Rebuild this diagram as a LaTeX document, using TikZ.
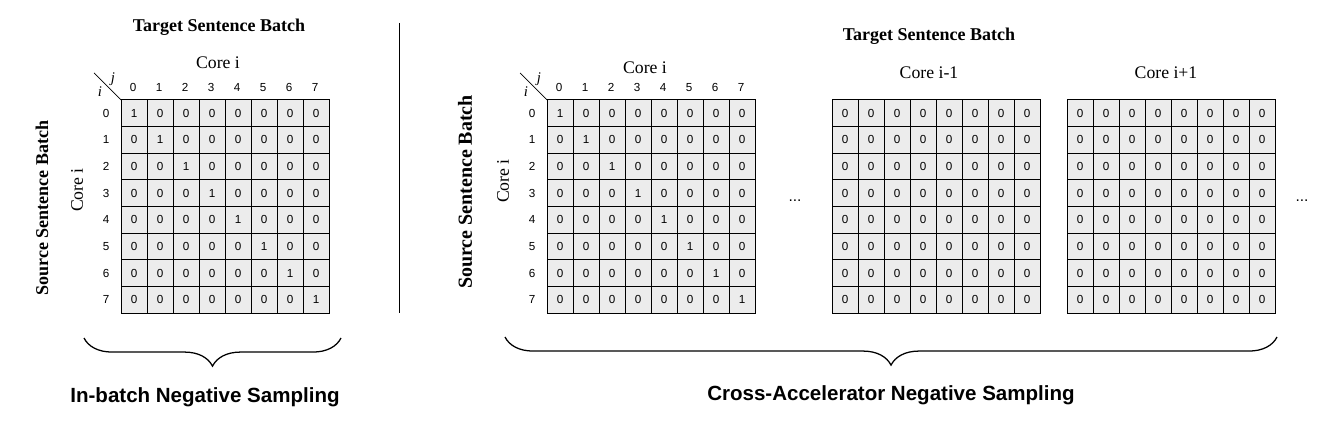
\documentclass[tikz,border=0pt]{standalone}
\usepackage{fontspec}
\setmainfont{Liberation Serif}
\setsansfont{Liberation Sans}
\usetikzlibrary{decorations.pathreplacing}

\begin{document}
\begin{tikzpicture}[x=0.025cm,y=-0.025cm,
    cell/.style={draw,line width=0.7pt,fill=gray!15,minimum width=0.65cm,minimum height=0.666cm,inner sep=0pt,outer sep=0pt,font=\sffamily\fontsize{8.3}{9}\selectfont},
    idx/.style={inner sep=0pt,font=\sffamily\fontsize{8.3}{9}\selectfont},
    ttl/.style={font=\bfseries\fontsize{12.8}{15}\selectfont},
    core/.style={font=\fontsize{12.6}{15}\selectfont},
    ij/.style={inner sep=0pt,font=\itshape\fontsize{10.5}{12}\selectfont},
    sampcap/.style={font=\sffamily\bfseries\fontsize{14.6}{17}\selectfont},
    brc/.style={decorate,decoration={brace,amplitude=20pt,mirror},line width=0.9pt}]
\useasboundingbox (0,0) rectangle (1339,425);
% the four 8x8 blocks (A: in-batch, B: core i, C: core i-1, D: core i+1)
\foreach \m/\x/\d in {A/121/1,B/547/1,C/832/0,D/1067/0} {
  \foreach \r in {0,...,7} {
    \foreach \c in {0,...,7} {
      \pgfmathtruncatemacro{\v}{(\r==\c)*\d}
      \node[cell] (\m\r\c) at (\x+13+26*\c, 100+13.3+26.65*\r) {\v};
    }
  }
}
% row / column indices and the i\j corner
\foreach \m/\x in {A/121,B/547} {
  \foreach \k in {0,...,7} {
    \node[idx] (\m-c\k) at (\x+12+26*\k, 87.5) {\k};
    \node[idx] (\m-r\k) at (\x-15, 100+13.3+26.65*\k) {\k};
  }
  \coordinate (\m-dg) at (\x-27,73);
  \draw[line width=0.5pt] (\m-dg) -- (\m00.north west);
  \node[ij] (\m-j) at (\x-8,79) {j};
  \node[ij] (\m-i) at (\x-21,92) {i};
}
% axis titles
\node[ttl] (tgtA) at (219,27) {Target Sentence Batch};
\node[ttl] (tgtB) at (929,36) {Target Sentence Batch};
\node[ttl,rotate=90] (srcA) at (42,208) {Source Sentence Batch};
\node[ttl,rotate=90,font=\bfseries\fontsize{14.2}{16}\selectfont] (srcB) at (465,192) {Source Sentence Batch};
\node[core] (coreA) at (218,63) {Core i};
\node[core] (coreB) at (645,68) {Core i};
\node[core] (coreC) at (929,73) {Core i-1};
\node[core] (coreD) at (1166,73) {Core i+1};
\node[core,rotate=90] (coreAv) at (77,190) {Core i};
\node[core,rotate=90] (coreBv) at (503,181) {Core i};
\node[idx,font=\sffamily\fontsize{11}{12}\selectfont] (dots1) at (795,201) {...};
\node[idx,font=\sffamily\fontsize{11}{12}\selectfont] (dots2) at (1302,201) {...};
% separator
\draw[line width=0.6pt] (399,23) -- (399,313);
% braces and captions
\coordinate (bA1) at (84,338);
\coordinate (bA2) at (341,338);
\coordinate (bB1) at (505,337);
\coordinate (bB2) at (1277,337);
\draw[brc] (bA1) -- (bA2);
\draw[brc] (bB1) -- (bB2);
\node[sampcap] (capA) at (205,397) {In-batch Negative Sampling};
\node[sampcap] (capB) at (891,395) {Cross-Accelerator Negative Sampling};
\end{tikzpicture}
\end{document}
